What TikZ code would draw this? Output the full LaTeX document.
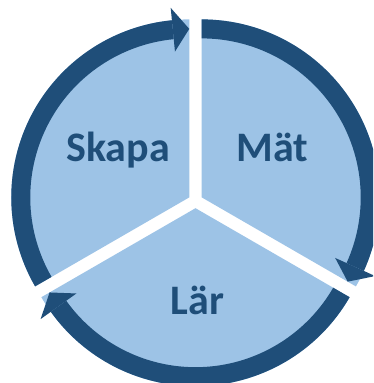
\documentclass[tikz,border=0pt]{standalone}
\usepackage{fontspec}
\setmainfont{Carlito}
\definecolor{darkblue}{HTML}{1F4E79}
\definecolor{lightblue}{HTML}{9DC3E6}
\tikzset{
  fillpart/.style={fill=lightblue},
  ringpart/.style={fill=darkblue},
  label/.style={text=darkblue,font=\fontsize{42}{50}\selectfont\bfseries,anchor=base,inner sep=0pt}
}
\newcommand{\cyclepart}[3]{% center, start angle, end angle (clockwise)
  \begin{scope}[shift={#1}]
    \fill[fillpart] (0,0) -- (#2:178) arc[start angle=#2, end angle=#3, radius=178] -- cycle;
    \fill[ringpart] (#2:178) arc[start angle=#2, end angle=#3+5.6, radius=178]
      -- (#3+5.6:159) arc[start angle=#3+5.6, end angle=#2, radius=159] -- cycle;
    \fill[ringpart] (#3+5.6:190.5) -- (#3:168.5) -- (#3+5.6:146.5) -- cycle;
  \end{scope}
}
\begin{document}
\begin{tikzpicture}[x=1pt,y=1pt]
\useasboundingbox (0,0) rectangle (373,383);
\clip (0,0) rectangle (373,383);
\cyclepart{(189.26,185.6)}{210}{90}
\cyclepart{(201.74,185.6)}{90}{-30}
\cyclepart{(195.5,174.8)}{330}{210}
\node[label] (skapa) at (118,221.3) {Skapa};
\node[label] (mat) at (272.5,221.3) {Mät};
\node[label] (lar) at (197.5,68) {Lär};
\end{tikzpicture}
\end{document}
